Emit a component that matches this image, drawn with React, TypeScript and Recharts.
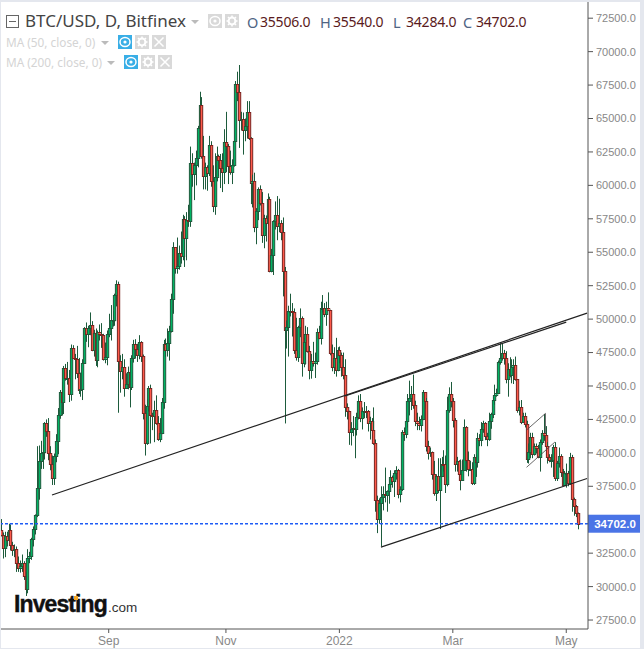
import { ComposedChart, Bar, XAxis, YAxis, ReferenceLine } from "recharts";

const opens = [
  34230, 33860, 32870, 33810, 33510, 34250, 33090, 32720, 32820, 31780, 31420, 31530, 31790, 30820, 29800, 32130, 32290, 33580, 34290, 35380, 37340, 39400, 40000, 40030, 42230,
  41630, 39970, 39200, 38150, 39750, 40870, 42820, 44570, 43800, 46370, 45590, 45590, 44430, 47840, 47100, 47050, 45950, 44690, 44800, 46720, 49340, 48900, 49320, 49550, 47710, 48990, 46940, 49060, 48900, 48810, 46990,
  47170, 48850, 49320, 49940, 49940, 51770, 52660, 46860, 46090, 46400, 44850, 45160, 46020, 44960, 47090, 48150, 47770, 47300, 48310, 47250, 43010, 40730, 43540, 44880, 42840, 42720, 43210, 42240, 41030, 41520,
  43790, 48140, 47710, 48200, 49110, 51510, 55360, 53810, 53970, 54960, 54690, 57480, 56040, 57400, 57370, 61670, 60880, 61530, 62040, 64260, 66000, 62210, 60690, 61390, 60890, 63040, 60360, 58480, 60620, 62230, 61880,
  61320, 61000, 63220, 62970, 61450, 61010, 61530, 63310, 67550, 66970, 64880, 64950, 64160, 64470, 65470, 63560, 60160, 60340, 56900, 58120, 59750, 58700, 56300, 57570, 57160, 58960, 53570, 54760, 57300, 57800,
  56990, 57200, 56500, 53600, 49150, 49400, 50600, 50600, 50500, 47700, 47200, 49400, 50100, 46700, 48300, 48900, 47650, 46200, 46850, 46700, 46900, 49000, 48600, 50800, 50800, 50400, 50800, 50700, 47500, 46450, 47100,
  46200, 47700, 47300, 46450, 45800, 43400, 43100, 41550, 41800, 41860, 41800, 42700, 43900, 42580, 43100, 43150, 43100, 42250, 42400, 41700, 40700, 36470, 35050, 36280, 36680, 36950, 36830, 37160, 37700, 38170, 37920,
  38480, 38700, 36900, 37300, 41570, 41400, 42400, 43850, 44100, 44400, 43560, 42400, 42200, 42050, 42550, 44580, 43900, 40550, 40000, 40100, 38400, 37000, 38240, 37250, 38300, 39200, 39150, 37700,
  43190, 44400, 43900, 42450, 39150, 39400, 38400, 38000, 38730, 41950, 39450, 38800, 38810, 37780, 39670, 39280, 41130, 40950, 41800, 42200, 41270, 41020, 42370, 42900, 43960, 44350, 44500, 46820, 47130, 47450, 47060,
  45530, 46280, 45810, 46410, 46580, 45500, 43170, 43440, 42280, 42760, 42150, 39530, 40070, 41150, 39940, 40550, 40400, 39720, 40830, 41500, 41370, 40480, 39700, 39450, 39450, 40430, 38120, 39240, 39740, 38600,
  37630, 38470, 38530, 37720, 39690, 36550, 36010, 35506,
];

const closes = [
  33860, 32870, 33810, 33510, 34250, 33090, 32720, 32820, 31780, 31420, 31530, 31790, 30820, 29800, 32130, 32290, 33580, 34290, 35380, 37340, 39400, 40000, 40030, 42230, 41630,
  39970, 39200, 38150, 39750, 40870, 42820, 44570, 43800, 46370, 45590, 45590, 44430, 47840, 47100, 47050, 45950, 44690, 44800, 46720, 49340, 48900, 49320, 49550, 47710, 48990, 46940, 49060, 48900, 48810, 46990, 47170,
  48850, 49320, 49940, 49940, 51770, 52660, 46860, 46090, 46400, 44850, 45160, 46020, 44960, 47090, 48150, 47770, 47300, 48310, 47250, 43010, 40730, 43540, 44880, 42840, 42720, 43210, 42240, 41030, 41520, 43790,
  48140, 47710, 48200, 49110, 51510, 55360, 53810, 53970, 54960, 54690, 57480, 56040, 57400, 57370, 61670, 60880, 61530, 62040, 64260, 66000, 62210, 60690, 61390, 60890, 63040, 60360, 58480, 60620, 62230, 61880, 61320,
  61000, 63220, 62970, 61450, 61010, 61530, 63310, 67550, 66970, 64880, 64950, 64160, 64470, 65470, 63560, 60160, 60340, 56900, 58120, 59750, 58700, 56300, 57570, 57160, 58960, 53570, 54760, 57300, 57800, 56990,
  57200, 56500, 53600, 49150, 49400, 50600, 50600, 50500, 47700, 47200, 49400, 50100, 46700, 48300, 48900, 47650, 46200, 46850, 46700, 46900, 49000, 48600, 50800, 50800, 50400, 50800, 50700, 47500, 46450, 47100, 46200,
  47700, 47300, 46450, 45800, 43400, 43100, 41550, 41800, 41860, 41800, 42700, 43900, 42580, 43100, 43150, 43100, 42250, 42400, 41700, 40700, 36470, 35050, 36280, 36680, 36950, 36830, 37160, 37700, 38170, 37920, 38480,
  38700, 36900, 37300, 41570, 41400, 42400, 43850, 44100, 44400, 43560, 42400, 42200, 42050, 42550, 44580, 43900, 40550, 40000, 40100, 38400, 37000, 38240, 37250, 38300, 39200, 39150, 37700, 43190,
  44400, 43900, 42450, 39150, 39400, 38400, 38000, 38730, 41950, 39450, 38800, 38810, 37780, 39670, 39280, 41130, 40950, 41800, 42200, 41270, 41020, 42370, 42900, 43960, 44350, 44500, 46820, 47130, 47450, 47060, 45530,
  46280, 45810, 46410, 46580, 45500, 43170, 43440, 42280, 42760, 42150, 39530, 40070, 41150, 39940, 40550, 40400, 39720, 40830, 41500, 41370, 40480, 39700, 39450, 39450, 40430, 38120, 39240, 39740, 38600, 37630,
  38470, 38530, 37720, 39690, 36550, 36010, 35506, 34702,
];

const highs = [
  35050, 34050, 34100, 34100, 34700, 34650, 33350, 33150, 33000, 32250, 31950, 32400, 31900, 31100, 32800, 32600, 33650, 34500, 35400, 40500, 40550, 40900, 40600, 42300, 42500,
  42600, 40500, 39800, 39950, 41400, 43350, 44700, 45300, 46500, 46650, 46800, 46200, 48100, 48050, 47400, 48000, 47100, 46000, 47000, 49400, 49750, 49500, 50500, 49850, 49200, 49300, 49150, 49600, 49700, 48900, 48250,
  49150, 50400, 51050, 50600, 51900, 52900, 52800, 47300, 47400, 47000, 45950, 46450, 46900, 47300, 48450, 48500, 48150, 48800, 48350, 47350, 43600, 44000, 45000, 45100, 43000, 43900, 44300, 42750, 42600, 44100,
  48450, 48550, 49300, 49500, 51900, 55750, 55300, 56100, 55500, 56550, 57800, 57700, 58000, 58550, 62900, 62400, 61700, 62600, 64450, 67000, 66600, 63700, 61700, 61500, 63700, 63300, 61500, 62400, 62900, 62300, 62350,
  62400, 64200, 65500, 63100, 62600, 61950, 63350, 67800, 68500, 69000, 65500, 65450, 65000, 66300, 66300, 63600, 60800, 60950, 58300, 59850, 60000, 59500, 57800, 57750, 59400, 59150, 55250, 57400, 58800, 59200,
  59000, 57400, 57600, 53900, 49900, 51000, 51900, 51200, 50800, 50100, 49500, 50800, 50200, 48600, 49500, 49400, 48000, 47400, 48300, 47500, 49300, 49500, 51300, 51800, 51200, 51300, 52000, 50700, 48100, 47900, 48600,
  47900, 47950, 47500, 47500, 47000, 43700, 43150, 42300, 42750, 42200, 43000, 44300, 44400, 43400, 43800, 43500, 43200, 42700, 42600, 43400, 41000, 36800, 36600, 37500, 37500, 38900, 37200, 38000, 38700, 38300, 38700,
  39000, 38800, 37500, 41700, 41900, 42600, 44400, 45400, 45000, 45850, 43900, 43000, 42700, 42800, 44700, 44500, 44100, 40900, 40400, 40100, 39400, 38400, 39600, 39600, 39700, 40200, 39800, 44200,
  44900, 45300, 44100, 42600, 39700, 39450, 39500, 39500, 42500, 42000, 40100, 39400, 39300, 39900, 39900, 41500, 41400, 42300, 42400, 42300, 41500, 43000, 43000, 44200, 45100, 44800, 46900, 48200, 48200, 47700, 47600,
  46700, 47150, 47000, 47000, 47200, 45500, 43900, 43950, 43000, 43000, 42400, 40700, 41500, 41500, 40700, 40700, 40600, 41000, 41700, 42900, 42000, 40800, 39900, 39900, 40600, 40800, 39400, 40400, 39900, 38800,
  38650, 39200, 38650, 40000, 39850, 36650, 36100, 35540,
];

const lows = [
  33750, 32100, 32200, 33000, 33350, 32700, 32300, 32200, 31100, 31100, 31050, 31100, 30500, 29300, 29500, 31750, 32000, 33000, 33900, 35200, 36500, 38800, 38800, 39500, 41200,
  39450, 38700, 37600, 37600, 39300, 39900, 42550, 42800, 42900, 45400, 45100, 43800, 43900, 47100, 45500, 45600, 44400, 44200, 43950, 46650, 48300, 47900, 48800, 47600, 47200, 46500, 46400, 48400, 47850, 46900, 46700,
  46550, 48650, 48400, 49450, 49500, 50950, 43000, 44500, 45500, 44200, 44800, 44750, 43400, 44700, 46750, 47050, 46800, 47000, 46800, 42500, 39800, 40600, 43100, 40700, 41700, 40800, 42100, 40900, 40800, 41400,
  43300, 47200, 47200, 46900, 49000, 50400, 53400, 53400, 53700, 54150, 54400, 53900, 54400, 56900, 56900, 59900, 58900, 60000, 61350, 63500, 62000, 59700, 59700, 59600, 60700, 59900, 58000, 57800, 60300, 60700, 59800,
  59500, 60100, 61000, 60100, 60800, 60100, 61400, 63300, 66300, 62800, 64100, 62300, 63300, 63500, 63400, 58600, 58350, 56500, 55600, 57400, 58500, 55700, 55300, 55800, 57000, 53500, 53500, 53300, 56700, 55900,
  56500, 55900, 51700, 42200, 47800, 47200, 50200, 48700, 47400, 46900, 46800, 48650, 45700, 46400, 46600, 47500, 45500, 45550, 46450, 45600, 46600, 48500, 48100, 50500, 50150, 49500, 50600, 47300, 46100, 45900, 45700,
  46100, 46700, 45700, 45500, 42700, 42500, 40600, 40550, 41250, 39600, 41300, 42500, 42300, 41750, 42600, 42600, 41600, 41000, 41100, 40600, 35600, 34000, 34700, 33000, 35700, 36300, 35600, 36200, 37400, 37400, 36700,
  38000, 36600, 36300, 37150, 40900, 41100, 41900, 42800, 43200, 43300, 42000, 41700, 41700, 41600, 42450, 43300, 40100, 39500, 39700, 38000, 36800, 36400, 37000, 34300, 38500, 38600, 37000, 37500,
  43000, 43400, 41900, 38600, 38600, 37900, 37200, 37900, 38700, 38600, 38250, 38700, 37600, 37600, 38200, 38900, 40500, 40500, 41500, 40950, 40500, 40900, 41800, 42600, 43600, 44200, 44400, 46600, 46900, 46600, 45200,
  44200, 45650, 45200, 45150, 45400, 43000, 42800, 42150, 42300, 41900, 39250, 39200, 39600, 39600, 39800, 39950, 39600, 38600, 40600, 40900, 39800, 39200, 39300, 38900, 38200, 37900, 37900, 38900, 38200, 37600,
  37600, 37400, 37500, 37600, 35600, 35300, 35200, 34284,
];

const firstDay = "2021-07-07";
const emptyDaysAfter = 5;
const lastPrice = 34702;
// 35000 sits under the price badge in the reference, so it is left out
const priceTicks = [
  72500, 70000, 67500, 65000, 62500, 60000, 57500, 55000, 52500, 50000, 47500, 45000, 42500, 40000, 37500, 32500, 30000, 27500,
];
const dateTicks = ["2021-09-02", "2021-11-03", "2022-01-02", "2022-03-03", "2022-05-02"];
const dateTickLabels = ["Sep", "Nov", "2022", "Mar", "May"];

// hand drawn lines on the chart: [date, price, date, price]
const trendLines: [string, number, string, number][] = [
  ["2021-08-03", 36850, "2022-05-13", 50450],
  ["2022-01-05", 44250, "2022-05-02", 49780],
  ["2022-01-24", 32950, "2022-05-13", 38080],
];
const flagLines: [string, number, string, number][] = [
  ["2022-04-11", 41710, "2022-04-21", 42950],
  ["2022-04-21", 42950, "2022-04-21", 41450],
  ["2022-04-11", 38920, "2022-04-26", 40810],
];

const dayKey = (i: number) => {
  const d = new Date(firstDay + "T00:00:00Z");
  d.setUTCDate(d.getUTCDate() + i);
  return d.toISOString().slice(0, 10);
};

const rows = Array.from({ length: closes.length + emptyDaysAfter }, (_, i) => ({
  day: dayKey(i),
  open: opens[i],
  close: closes[i],
  high: highs[i],
  low: lows[i],
  range: i < closes.length ? [lows[i], highs[i]] : null,
}));

const Candle = (props: any) => {
  const { x, y, width, height, payload } = props;
  if (payload.high === undefined) return null;
  const top = Math.min(y, y + height);
  const span = Math.abs(height);
  const perUnit = span / (payload.high - payload.low);
  const cx = Math.round(x + width / 2);
  const up = payload.close >= payload.open;
  const bodyTop = Math.round(top + (payload.high - Math.max(payload.open, payload.close)) * perUnit);
  const bodyBottom = Math.round(top + (payload.high - Math.min(payload.open, payload.close)) * perUnit);
  return (
    <g>
      <rect x={cx} y={top} width={1} height={span} fill="#1d5b3c" />
      <rect
        x={cx - 0.6}
        y={bodyTop + 0.5}
        width={2.3}
        height={Math.max(bodyBottom - bodyTop, 1)}
        fill={up ? "#00b464" : "#ff5a4b"}
        stroke={up ? "#1d5b3c" : "#7b2420"}
        strokeWidth={1}
      />
    </g>
  );
};

const PriceBadge = (props: any) => {
  const { viewBox } = props;
  const y = viewBox.y;
  return (
    <g>
      <rect x={588} y={y - 9} width={52} height={18} fill="#4a74e6" />
      <text x={615} y={y + 4} fill="#fff" fontSize={11.5} fontWeight={700} textAnchor="middle" fontFamily="Liberation Sans">
        34702.0
      </text>
    </g>
  );
};

const IconBox = ({ left, top, bg, kind }: { left: number; top: number; bg: string; kind: string }) => (
  <svg width={14} height={14} style={{ position: "absolute", left, top, background: bg }}>
    {kind === "eye" && (
      <>
        <ellipse cx={7} cy={7} rx={5} ry={4.5} fill="none" stroke="#fff" strokeWidth={1.5} />
        <circle cx={7} cy={7} r={1.6} fill="#fff" />
      </>
    )}
    {kind === "gear" && (
      <>
        <circle cx={7} cy={7} r={3.4} fill="none" stroke="#fff" strokeWidth={2} />
        <path d="M7 1.5V4M7 10v2.5M1.5 7H4M10 7h2.5M3 3l1.8 1.8M9.2 9.2L11 11M11 3L9.2 4.8M4.8 9.2L3 11" stroke="#fff" strokeWidth={1.5} />
      </>
    )}
    {kind === "x" && <path d="M2.5 2.5L11.5 11.5M11.5 2.5L2.5 11.5" stroke="#fff" strokeWidth={1.5} />}
  </svg>
);

const Caret = ({ left, top }: { left: number; top: number }) => (
  <div
    style={{
      position: "absolute",
      left,
      top,
      width: 0,
      height: 0,
      borderLeft: "4px solid transparent",
      borderRight: "4px solid transparent",
      borderTop: "4px solid #bbb",
    }}
  />
);

const Quote = ({ left, label, value }: { left: number; label: string; value: string }) => (
  <>
    <div style={{ position: "absolute", left, top: 12, fontSize: 14.5, color: "#4f6484" }}>{label}</div>
    <div style={{ position: "absolute", left: left + 13, top: 12, fontSize: 14, color: "#5a1a20", letterSpacing: -0.2 }}>{value}</div>
  </>
);

const Header = () => (
  <div style={{ position: "absolute", left: 0, top: 0, fontFamily: "Noto Sans", whiteSpace: "nowrap" }}>
    <svg width={13} height={13} style={{ position: "absolute", left: 6, top: 15 }}>
      <rect x={0.5} y={0.5} width={12} height={12} fill="#fff" stroke="#666" />
      <path d="M3 6.5H10" stroke="#666" />
    </svg>
    <div style={{ position: "absolute", left: 25, top: 9, fontSize: 17, color: "#444" }}>BTC/USD, D, Bitfinex</div>
    <Caret left={191} top={20} />
    <IconBox left={208} top={14} bg="#d9d9d9" kind="eye" />
    <IconBox left={225} top={14} bg="#d9d9d9" kind="gear" />
    <Quote left={247} label="O" value="35506.0" />
    <Quote left={320} label="H" value="35540.0" />
    <Quote left={393} label="L" value="34284.0" />
    <Quote left={463} label="C" value="34702.0" />
    <div style={{ position: "absolute", left: 6, top: 34, fontSize: 11.8, color: "#d4d4d4" }}>MA (50, close, 0)</div>
    <Caret left={101} top={41} />
    <IconBox left={118} top={35} bg="#39aee6" kind="eye" />
    <IconBox left={135} top={35} bg="#d9d9d9" kind="gear" />
    <IconBox left={152} top={35} bg="#d9d9d9" kind="x" />
    <div style={{ position: "absolute", left: 6, top: 54, fontSize: 11.8, color: "#d4d4d4" }}>MA (200, close, 0)</div>
    <Caret left={107} top={61} />
    <IconBox left={124} top={55} bg="#39aee6" kind="eye" />
    <IconBox left={141} top={55} bg="#d9d9d9" kind="gear" />
    <IconBox left={158} top={55} bg="#d9d9d9" kind="x" />
  </div>
);

const Logo = () => (
  <div style={{ position: "absolute", left: 14, top: 591, fontFamily: "Liberation Sans", whiteSpace: "nowrap", color: "#111" }}>
    <span style={{ fontSize: 23, fontWeight: 700, letterSpacing: -0.9, WebkitTextStroke: "0.4px #111" }}>Investing</span>
    <span style={{ fontSize: 13.5, color: "#333", marginLeft: 1 }}>.com</span>
    <div style={{ position: "absolute", left: 60, top: 5, width: 4, height: 4, background: "#f5a623" }} />
  </div>
);

export default function App() {
  return (
    <div style={{ position: "absolute", left: 0, top: 0, width: 644, height: 649, background: "#fff", overflow: "hidden" }}>
      <ComposedChart width={644} height={649} data={rows} margin={{ top: 2, right: 0, bottom: 0, left: 0 }} barCategoryGap={0}>
        <XAxis
          dataKey="day"
          ticks={dateTicks}
          interval={0}
          height={20}
          tickSize={4}
          tickMargin={3}
          tickFormatter={(d: string) => dateTickLabels[dateTicks.indexOf(d)]}
          tick={{ fill: "#888", fontSize: 12, fontFamily: "Liberation Sans" }}
          axisLine={{ stroke: "#555" }}
          tickLine={{ stroke: "#555" }}
        />
        <YAxis
          orientation="right"
          width={56}
          domain={[26830, 73711]}
          ticks={priceTicks}
          interval={0}
          tickSize={5}
          tickMargin={3}
          tickFormatter={(v: number) => v.toFixed(1)}
          tick={{ fill: "#888", fontSize: 11, fontFamily: "Liberation Sans" }}
          axisLine={{ stroke: "#555" }}
          tickLine={{ stroke: "#555" }}
        />
        <Bar dataKey="range" shape={Candle} isAnimationActive={false} />
        <ReferenceLine y={lastPrice} stroke="#1f5cf5" strokeWidth={1.4} strokeDasharray="3 2" label={PriceBadge} />
        {trendLines.map(([d1, p1, d2, p2], i) => (
          <ReferenceLine
            key={i}
            segment={[
              { x: d1, y: p1 },
              { x: d2, y: p2 },
            ]}
            stroke="#222"
            strokeWidth={1.2}
          />
        ))}
        {flagLines.map(([d1, p1, d2, p2], i) => (
          <ReferenceLine
            key={"flag" + i}
            segment={[
              { x: d1, y: p1 },
              { x: d2, y: p2 },
            ]}
            stroke="#444"
            strokeWidth={0.8}
          />
        ))}
      </ComposedChart>
      <Header />
      <Logo />
      <div
        style={{
          position: "absolute",
          inset: 0,
          boxSizing: "border-box",
          borderStyle: "solid",
          borderColor: "#e4e7ee",
          borderWidth: "2px 4px 1px 1px",
          pointerEvents: "none",
        }}
      />
    </div>
  );
}
